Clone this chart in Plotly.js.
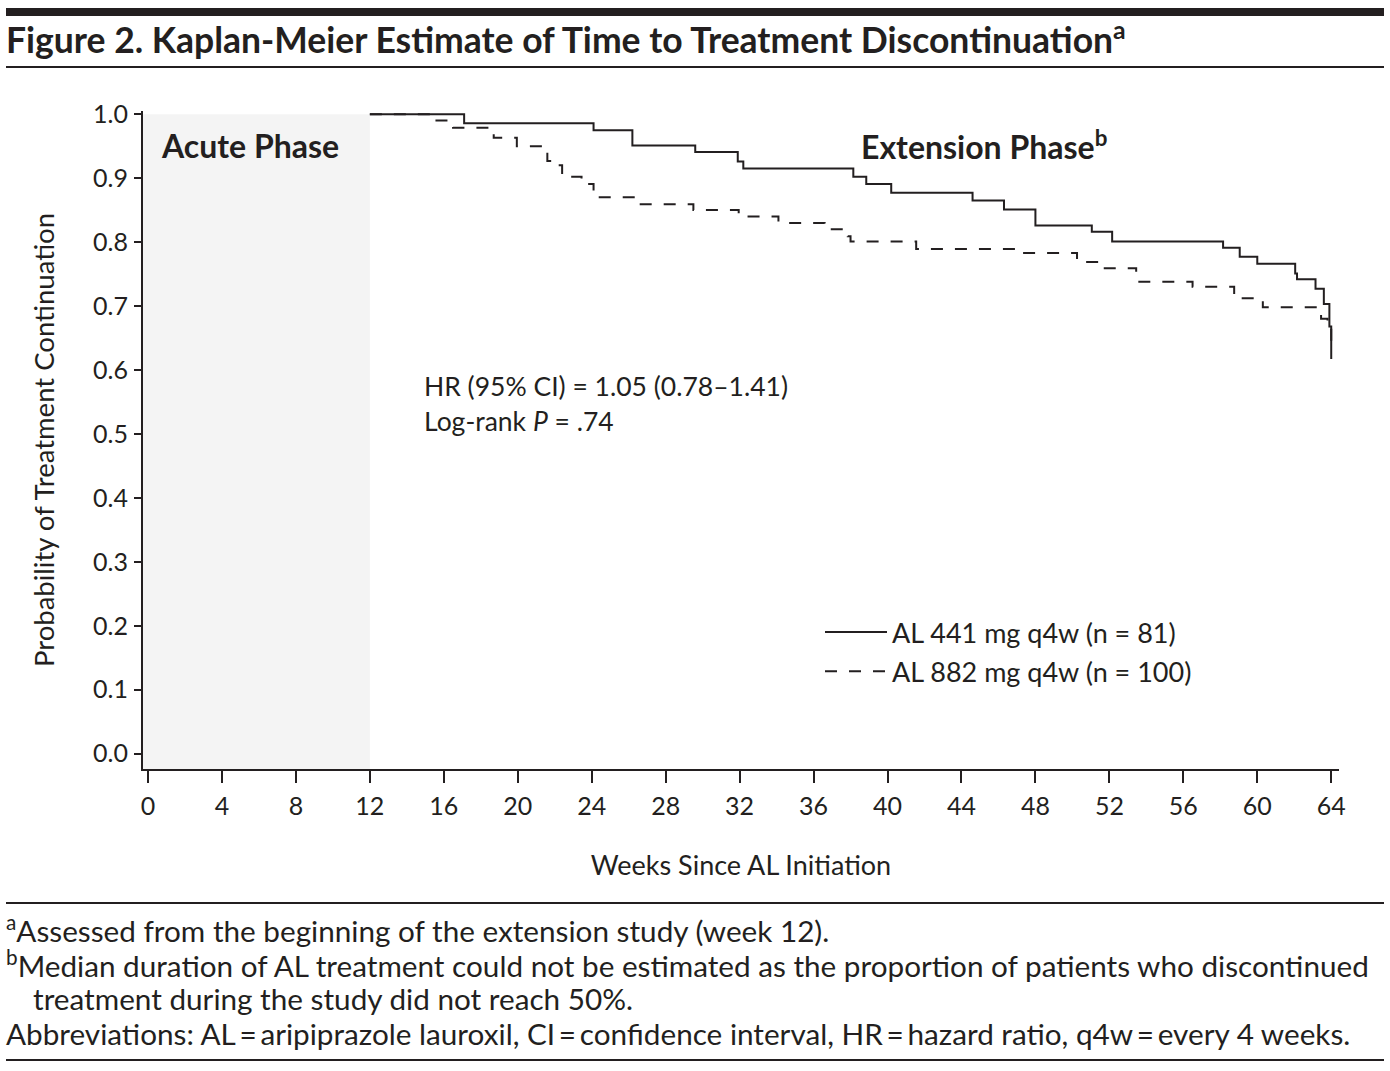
<!DOCTYPE html>
<html>
<head>
<meta charset="utf-8">
<script src="https://cdn.plot.ly/plotly-3.0.1.min.js"></script>
<style>
  html, body { margin: 0; padding: 0; background: #ffffff; }
  #chart { width: 1390px; height: 1071px; }
</style>
</head>
<body>
<div id="chart"></div>
<script>
// ---- Data ----
const seriesNames = ["AL 441 mg q4w (n = 81)", "AL 882 mg q4w (n = 100)"];

const weeks441 = [12, 17.1, 24.1, 26.2, 29.6, 31.9, 32.2, 38.15, 38.85, 40.2, 44.6, 46.3, 48.0, 51.05, 52.15, 58.15, 59.05, 60.0, 62.05, 62.15, 63.15, 63.6, 63.9, 64.0];
const surv441  = [1.0, 0.986, 0.975, 0.951, 0.941, 0.926, 0.915, 0.902, 0.891, 0.877, 0.865, 0.851, 0.826, 0.816, 0.801, 0.791, 0.777, 0.766, 0.751, 0.742, 0.727, 0.703, 0.668, 0.617];

const weeks882 = [12, 15.5, 16.5, 18.7, 19.95, 21.4, 21.6, 22.0, 22.4, 23.45, 24.1, 26.35, 29.5, 31.95, 34.1, 36.6, 37.85, 38.0, 41.55, 47.0, 50.25, 51.55, 53.45, 56.5, 58.75, 60.3, 63.45, 63.8, 64.0];
const surv882  = [1.0, 0.99, 0.979, 0.963, 0.950, 0.941, 0.927, 0.920, 0.902, 0.891, 0.870, 0.859, 0.850, 0.840, 0.830, 0.820, 0.809, 0.801, 0.789, 0.783, 0.769, 0.759, 0.738, 0.730, 0.712, 0.698, 0.680, 0.665, 0.645];

const acutePhase = [0, 12];          // weeks
const xTickVals = [0, 4, 8, 12, 16, 20, 24, 28, 32, 36, 40, 44, 48, 52, 56, 60, 64];
const yTickVals = [0.0, 0.1, 0.2, 0.3, 0.4, 0.5, 0.6, 0.7, 0.8, 0.9, 1.0];

const titleText = "Figure 2. Kaplan-Meier Estimate of Time to Treatment Discontinuation<sup>a</sup>";
const xTitle = "Weeks Since AL Initiation";
const yTitle = "Probability of Treatment Continuation";
const phaseLabels = ["Acute Phase", "Extension Phase<sup>b</sup>"];
const statLines = ["HR (95% CI) = 1.05 (0.78–1.41)", "Log-rank <i>P</i> = .74"];
const footnotes = [
  "<sup>a</sup>Assessed from the beginning of the extension study (week 12).",
  "<sup>b</sup>Median duration of AL treatment could not be estimated as the proportion of patients who discontinued",
  "treatment during the study did not reach 50%.",
  "Abbreviations: AL\u2009=\u2009aripiprazole lauroxil, CI\u2009=\u2009confidence interval, HR\u2009=\u2009hazard ratio, q4w\u2009=\u2009every 4 weeks."
];

// ---- Layout geometry ----
const W = 1390, H = 1071;
const L = 143, R = 1339, T = 111, B = 769;
const px = x => (x - L) / (R - L);
const py = y => (B - y) / (B - T);
const xRange = [-0.27, 64.42];
const yRange = [-0.024, 1.005];

const ink = "#231f20";
const FONT = "Lato, 'Open Sans', sans-serif";

const traces = [
  {
    x: weeks441, y: surv441, type: "scatter", mode: "lines",
    line: { shape: "hv", color: ink, width: 2 },
    name: seriesNames[0], legendgroup: "a"
  },
  {
    x: weeks882, y: surv882, type: "scatter", mode: "lines",
    line: { shape: "hv", color: ink, width: 2, dash: "12px,12px" },
    name: seriesNames[1], legendgroup: "b"
  }
];

const fnFont = { family: FONT, size: 29.7, color: ink };
const annotations = [
  { text: "<b>" + phaseLabels[0] + "</b>", xref: "paper", yref: "paper", x: px(159), y: py(145), xanchor: "left", yanchor: "middle", showarrow: false, font: { family: FONT, size: 32, color: ink } },
  { text: "<b>" + phaseLabels[1] + "</b>", xref: "paper", yref: "paper", x: px(859), y: py(145), xanchor: "left", yanchor: "middle", showarrow: false, font: { family: FONT, size: 32, color: ink } },
  { text: statLines[0], xref: "paper", yref: "paper", x: px(422), y: py(386), xanchor: "left", yanchor: "middle", showarrow: false, font: { family: FONT, size: 26.5, color: ink } },
  { text: statLines[1], xref: "paper", yref: "paper", x: px(422), y: py(421), xanchor: "left", yanchor: "middle", showarrow: false, font: { family: FONT, size: 26.5, color: ink } },
  { text: footnotes[0], xref: "paper", yref: "paper", x: px(4), y: py(928), xanchor: "left", yanchor: "middle", showarrow: false, font: fnFont },
  { text: footnotes[1], xref: "paper", yref: "paper", x: px(4), y: py(963), xanchor: "left", yanchor: "middle", showarrow: false, font: fnFont },
  { text: footnotes[2], xref: "paper", yref: "paper", x: px(31), y: py(998), xanchor: "left", yanchor: "middle", showarrow: false, font: fnFont },
  { text: footnotes[3], xref: "paper", yref: "paper", x: px(4), y: py(1033), xanchor: "left", yanchor: "middle", showarrow: false, font: fnFont }
];

const shapes = [
  { type: "rect", xref: "x", yref: "y", x0: xRange[0], x1: acutePhase[1], y0: yRange[0], y1: 1.0, fillcolor: "#f4f4f4", line: { width: 0 }, layer: "below" },
  { type: "rect", xref: "paper", yref: "paper", x0: px(6), x1: px(1384), y0: py(16), y1: py(8), fillcolor: ink, line: { width: 0 } },
  { type: "line", xref: "paper", yref: "paper", x0: px(6), x1: px(1384), y0: py(67), y1: py(67), line: { color: ink, width: 2 } },
  { type: "line", xref: "paper", yref: "paper", x0: px(6), x1: px(1384), y0: py(903), y1: py(903), line: { color: ink, width: 2 } },
  { type: "line", xref: "paper", yref: "paper", x0: px(6), x1: px(1384), y0: py(1060), y1: py(1060), line: { color: ink, width: 2 } }
];

const layout = {
  width: W, height: H,
  margin: { l: L, r: W - R, t: T, b: H - B, pad: 0 },
  paper_bgcolor: "#ffffff", plot_bgcolor: "rgba(0,0,0,0)",
  font: { family: FONT, size: 24, color: ink },
  title: {
    text: titleText, xref: "container", yref: "container",
    x: 6 / W, xanchor: "left", y: 1 - 41 / H, yanchor: "middle",
    font: { family: FONT, size: 35.5, color: ink, weight: 700 }
  },
  xaxis: {
    range: xRange, tickvals: xTickVals, ticks: "outside", ticklen: 12, tickwidth: 2, tickcolor: ink,
    showline: true, linecolor: ink, linewidth: 2, showgrid: false, zeroline: false,
    ticklabelstandoff: 2,
    tickfont: { family: FONT, size: 25, color: ink },
    title: { text: xTitle, standoff: 37, font: { family: FONT, size: 27, color: ink } }
  },
  yaxis: {
    range: yRange, tickvals: yTickVals, tickformat: ".1f", ticks: "outside", ticklen: 7, tickwidth: 2, tickcolor: ink,
    showline: true, linecolor: ink, linewidth: 2, showgrid: false, zeroline: false,
    ticklabelstandoff: 1,
    tickfont: { family: FONT, size: 25, color: ink },
    title: { text: yTitle, standoff: 30, font: { family: FONT, size: 27.5, color: ink } }
  },
  showlegend: true,
  legend: {
    x: px(820), y: py(608), xanchor: "left", yanchor: "top",
    bgcolor: "rgba(0,0,0,0)", borderwidth: 0,
    font: { family: FONT, size: 27, color: ink },
    itemwidth: 62,
    traceorder: "grouped", tracegroupgap: 1
  },
  annotations: annotations,
  shapes: shapes
};

Plotly.newPlot("chart", traces, layout, { displayModeBar: false, staticPlot: true });
</script>
</body>
</html>
